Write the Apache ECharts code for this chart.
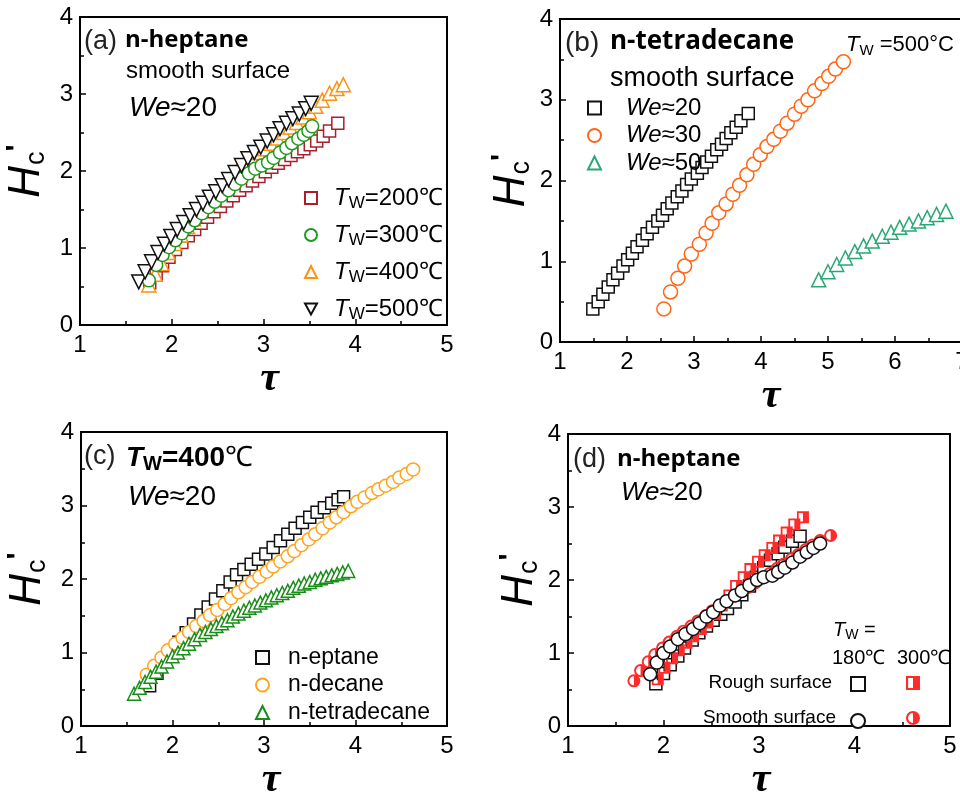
<!DOCTYPE html>
<html>
<head>
<meta charset="utf-8">
<script src="https://cdn.jsdelivr.net/npm/echarts@6/dist/echarts.min.js"></script>
<style>
html,body{margin:0;padding:0;background:#fff;overflow:hidden}
#chart{width:980px;height:802px}
</style>
</head>
<body>
<div id="chart"></div>
<script>
// ---------- (a) n-heptane, smooth surface, We≈20 ----------
const a200Tau = [1.76,1.83,1.90,1.97,2.04,2.11,2.18,2.25,2.32,2.39,2.46,2.53,2.60,2.67,2.74,2.81,2.88,2.95,3.02,3.09,3.16,3.23,3.30,3.37,3.44,3.51,3.58,3.65,3.72,3.81];
const a200H   = [0.55,0.66,0.77,0.88,0.98,1.07,1.16,1.24,1.32,1.40,1.47,1.54,1.61,1.68,1.75,1.81,1.87,1.93,1.99,2.05,2.10,2.15,2.20,2.25,2.29,2.34,2.39,2.45,2.52,2.62];
const a300Tau = [1.75,1.83,1.90,1.97,2.04,2.11,2.18,2.25,2.33,2.40,2.47,2.54,2.62,2.69,2.76,2.84,2.91,2.98,3.05,3.11,3.18,3.25,3.31,3.38,3.44,3.49,3.53];
const a300H   = [0.58,0.78,0.91,1.01,1.10,1.19,1.28,1.36,1.45,1.53,1.60,1.68,1.75,1.83,1.90,1.97,2.03,2.07,2.11,2.17,2.24,2.30,2.36,2.42,2.47,2.52,2.58];
const a400Tau = [1.75,1.82,1.89,1.96,2.03,2.10,2.17,2.24,2.31,2.38,2.45,2.52,2.59,2.66,2.73,2.80,2.87,2.94,3.01,3.08,3.15,3.22,3.29,3.36,3.43,3.50,3.57,3.64,3.72,3.80,3.87];
const a400H   = [0.52,0.66,0.80,0.94,1.06,1.17,1.28,1.38,1.48,1.57,1.66,1.75,1.84,1.95,2.05,2.12,2.18,2.24,2.29,2.36,2.43,2.50,2.57,2.63,2.70,2.77,2.84,2.92,3.01,3.07,3.12];
const a500Tau = [1.64,1.71,1.78,1.85,1.92,1.99,2.06,2.13,2.20,2.27,2.34,2.41,2.48,2.55,2.62,2.69,2.76,2.83,2.90,2.97,3.04,3.11,3.18,3.25,3.32,3.39,3.46,3.52];
const a500H   = [0.56,0.69,0.82,0.94,1.05,1.15,1.24,1.33,1.42,1.50,1.58,1.66,1.73,1.81,1.89,1.98,2.07,2.16,2.24,2.31,2.39,2.47,2.55,2.62,2.68,2.74,2.81,2.88];

// ---------- (b) n-tetradecane, smooth surface, Tw = 500 °C ----------
const b20Tau = [1.49,1.57,1.64,1.72,1.79,1.86,1.94,2.01,2.08,2.15,2.23,2.30,2.38,2.46,2.53,2.60,2.67,2.75,2.82,2.89,2.96,3.05,3.12,3.19,3.26,3.34,3.41,3.48,3.55,3.63,3.70,3.81];
const b20H   = [0.41,0.50,0.59,0.68,0.77,0.85,0.94,1.02,1.10,1.18,1.26,1.34,1.42,1.50,1.57,1.65,1.72,1.80,1.87,1.95,2.02,2.09,2.16,2.23,2.30,2.38,2.45,2.52,2.59,2.66,2.74,2.83];
const b30Tau = [2.55,2.65,2.76,2.86,2.96,3.08,3.18,3.27,3.37,3.48,3.58,3.68,3.79,3.89,3.99,4.09,4.19,4.29,4.39,4.50,4.60,4.70,4.80,4.91,5.01,5.11,5.23];
const b30H   = [0.41,0.62,0.79,0.94,1.09,1.21,1.35,1.47,1.60,1.71,1.83,1.94,2.07,2.20,2.32,2.42,2.51,2.61,2.71,2.82,2.92,3.00,3.11,3.20,3.29,3.38,3.47];
const b50Tau = [4.86,5.00,5.13,5.26,5.40,5.53,5.66,5.81,5.94,6.07,6.21,6.35,6.48,6.62,6.76];
const b50H   = [0.77,0.87,0.96,1.04,1.12,1.19,1.25,1.31,1.36,1.42,1.46,1.50,1.54,1.58,1.62];

// ---------- (c) Tw = 400 °C, We≈20 ----------
const cHepTau = [1.75,1.83,1.91,1.99,2.07,2.15,2.23,2.31,2.39,2.47,2.55,2.63,2.70,2.78,2.86,2.94,3.02,3.10,3.18,3.26,3.34,3.42,3.50,3.58,3.66,3.74,3.81,3.87];
const cHepH   = [0.55,0.72,0.88,1.02,1.14,1.27,1.39,1.51,1.62,1.73,1.84,1.96,2.06,2.13,2.20,2.27,2.34,2.43,2.52,2.61,2.69,2.77,2.84,2.91,2.97,3.03,3.08,3.12];
const cDecTau = [1.72,1.80,1.88,1.95,2.03,2.11,2.18,2.26,2.34,2.41,2.49,2.57,2.64,2.72,2.80,2.87,2.95,3.03,3.10,3.18,3.26,3.33,3.41,3.49,3.56,3.64,3.72,3.79,3.87,3.95,4.02,4.10,4.18,4.25,4.33,4.41,4.48,4.56,4.63];
const cDecH   = [0.70,0.82,0.93,1.03,1.12,1.20,1.28,1.36,1.43,1.51,1.58,1.66,1.74,1.82,1.89,1.96,2.03,2.10,2.17,2.24,2.31,2.38,2.46,2.54,2.61,2.69,2.77,2.84,2.91,2.99,3.05,3.11,3.17,3.22,3.27,3.32,3.38,3.43,3.49];
const cTetTau = [1.58,1.64,1.70,1.76,1.82,1.88,1.94,2.00,2.06,2.12,2.18,2.24,2.30,2.36,2.42,2.48,2.54,2.60,2.66,2.72,2.78,2.84,2.90,2.96,3.02,3.08,3.14,3.20,3.26,3.32,3.38,3.44,3.50,3.56,3.62,3.68,3.74,3.80,3.86,3.92];
const cTetH   = [0.44,0.52,0.60,0.67,0.74,0.81,0.88,0.95,1.00,1.06,1.12,1.18,1.24,1.28,1.32,1.36,1.40,1.44,1.49,1.53,1.57,1.61,1.64,1.68,1.71,1.75,1.78,1.81,1.84,1.88,1.91,1.94,1.96,1.99,2.01,2.03,2.05,2.07,2.09,2.11];

// ---------- (d) n-heptane, We≈20, rough vs smooth ----------
const dR180Tau = [1.92,2.00,2.07,2.15,2.22,2.30,2.37,2.45,2.52,2.60,2.67,2.75,2.82,2.90,2.97,3.05,3.12,3.20,3.27,3.35,3.43];
const dR180H   = [0.58,0.72,0.84,0.96,1.07,1.18,1.28,1.37,1.45,1.53,1.61,1.70,1.80,1.92,2.04,2.17,2.27,2.36,2.45,2.53,2.60];
const dR300Tau = [1.94,2.01,2.09,2.16,2.24,2.31,2.39,2.46,2.54,2.61,2.69,2.76,2.84,2.91,2.99,3.06,3.14,3.21,3.29,3.37,3.46];
const dR300H   = [0.64,0.80,0.93,1.04,1.14,1.23,1.33,1.42,1.53,1.65,1.79,1.92,2.04,2.15,2.25,2.34,2.44,2.54,2.65,2.76,2.86];
const dS180Tau = [1.86,1.93,2.00,2.07,2.15,2.23,2.31,2.38,2.45,2.52,2.59,2.66,2.75,2.82,2.90,2.98,3.05,3.14,3.20,3.27,3.35,3.43,3.50,3.57,3.64];
const dS180H   = [0.71,0.87,1.00,1.09,1.19,1.26,1.33,1.41,1.50,1.56,1.65,1.71,1.79,1.85,1.93,2.00,2.04,2.06,2.11,2.17,2.24,2.32,2.38,2.44,2.50];
const dS300Tau = [1.69,1.76,1.84,1.91,1.99,2.06,2.14,2.21,2.29,2.36,2.44,2.51,2.59,2.66,2.74,2.81,2.89,2.96,3.04,3.11,3.19,3.26,3.34,3.41,3.49,3.56,3.64,3.75];
const dS300H   = [0.62,0.76,0.88,0.98,1.07,1.15,1.23,1.30,1.37,1.44,1.51,1.58,1.65,1.71,1.78,1.84,1.90,1.96,2.03,2.09,2.16,2.22,2.29,2.35,2.42,2.48,2.54,2.61];

// axis ranges
const xMax = [5, 7, 5, 5];
const yMax = 4;

const SANS = 'Liberation Sans, Arial, sans-serif';
const BOLD = 'Open Sans, Noto Sans, sans-serif';
const SERIF = 'Liberation Serif, Times New Roman, serif';

function pts(t, h) { return t.map((v, i) => [v, h[i]]); }

// marker shapes
const DOWN_TRIANGLE = 'path://M0,0L20,0L10,18Z';
// half-filled markers: outer shape filled, left interior cut out
const HALF_SQUARE = 'path://M0,0L20,0L20,20L0,20Z M3,3L3,17L10,17L10,3Z';
const HALF_CIRCLE = 'path://M10,0A10,10,0,1,1,10,20A10,10,0,1,1,10,0Z M10,3A7,7,0,0,0,10,17Z';

// panel (b) runs past the right edge of the page
const grids = [
  { left: 80, top: 17, width: 367, height: 308 },
  { left: 560, top: 19, width: 402, height: 323 },
  { left: 81, top: 432, width: 366, height: 310 },
  { left: 568, top: 434, width: 382, height: 308 }
].map(g => Object.assign({ show: true, borderColor: '#000', borderWidth: 2, backgroundColor: 'transparent' }, g));

const xNameGap = [22, 12, 28, 16];
const xNameShift = [12, 20, 14, 4];
const yNameGap = [28, 22, 28, 22];

const tickStyle = { color: '#000', width: 1.5 };

const xAxes = grids.map((g, i) => ({
  gridIndex: i, type: 'value', min: 1, max: xMax[i], interval: 1,
  name: 'τ', nameLocation: 'middle', nameGap: xNameGap[i],
  nameTextStyle: { fontFamily: SERIF, fontStyle: 'italic', fontWeight: 'bold', fontSize: 42, color: '#000', verticalAlign: 'top', padding: [0, 0, 0, xNameShift[i]] },
  axisLine: { show: true, lineStyle: { color: '#000', width: 2 } },
  axisTick: { show: true, inside: true, length: 6, lineStyle: tickStyle },
  minorTick: { show: true, splitNumber: 2, length: 4, lineStyle: tickStyle },
  axisLabel: { fontSize: 24, fontFamily: SANS, color: '#000', margin: 8 },
  splitLine: { show: false }
}));

const yAxes = grids.map((g, i) => ({
  gridIndex: i, type: 'value', min: 0, max: yMax, interval: 1,
  name: '{h|H}{c|c}{p|\'}', nameLocation: 'middle', nameGap: yNameGap[i], nameRotate: 90,
  nameTextStyle: {
    color: '#000',
    rich: {
      h: { fontSize: 44, fontStyle: 'italic', fontFamily: SANS, lineHeight: 50, color: '#000' },
      c: { fontSize: 27, fontFamily: SANS, lineHeight: 27, padding: [19, 0, 0, 1], color: '#000' },
      p: { fontSize: 30, fontFamily: SANS, fontWeight: 'bold', lineHeight: 30, padding: [0, 0, 18, 0], color: '#000' }
    }
  },
  axisLine: { show: true, lineStyle: { color: '#000', width: 2 } },
  axisTick: { show: true, inside: true, length: 6, lineStyle: tickStyle },
  minorTick: { show: true, splitNumber: 2, length: 4, lineStyle: tickStyle },
  axisLabel: { fontSize: 24, fontFamily: SANS, color: '#000', margin: 7 },
  splitLine: { show: false }
}));

function hollow(name, gi, data, symbol, color, size) {
  return {
    name, type: 'scatter', xAxisIndex: gi, yAxisIndex: gi, data,
    symbol, symbolSize: size,
    itemStyle: { color: '#ffffff', opacity: 1, borderColor: color, borderWidth: 1.5 },
    emphasis: { disabled: true },
    animation: false
  };
}
function halfFilled(name, gi, data, symbol, color, size) {
  return {
    name, type: 'scatter', xAxisIndex: gi, yAxisIndex: gi, data,
    symbol, symbolSize: size,
    itemStyle: { color: color, opacity: 1, borderWidth: 0 },
    emphasis: { disabled: true },
    animation: false
  };
}

const series = [
  // (a)
  hollow('TW=200℃', 0, pts(a200Tau, a200H), 'rect', '#a8202c', 12),
  hollow('TW=400℃', 0, pts(a400Tau, a400H), 'triangle', '#ff9010', 14),
  hollow('TW=300℃', 0, pts(a300Tau, a300H), 'circle', '#1e9a1e', 13),
  hollow('TW=500℃', 0, pts(a500Tau, a500H), DOWN_TRIANGLE, '#111', 14),
  // (b)
  hollow('We≈20', 1, pts(b20Tau, b20H), 'rect', '#111', 12),
  hollow('We≈30', 1, pts(b30Tau, b30H), 'circle', '#ff6514', 14),
  hollow('We≈50', 1, pts(b50Tau, b50H), 'triangle', '#2aa874', 14),
  // (c)
  hollow('n-eptane', 2, pts(cHepTau, cHepH), 'rect', '#111', 12),
  hollow('n-decane', 2, pts(cDecTau, cDecH), 'circle', '#ffa41c', 13),
  hollow('n-tetradecane', 2, pts(cTetTau, cTetH), 'triangle', '#1a8c1a', 13),
  // (d)
  hollow('Rough 180℃', 3, pts(dR180Tau, dR180H), 'rect', '#111', 12),
  halfFilled('Rough 300℃', 3, pts(dR300Tau, dR300H), HALF_SQUARE, '#ff2a2a', 12),
  halfFilled('Smooth 300℃', 3, pts(dS300Tau, dS300H), HALF_CIRCLE, '#ff2a2a', 13),
  hollow('Smooth 180℃', 3, pts(dS180Tau, dS180H), 'circle', '#111', 13)
];

const twRich = {
  g: { width: 12 },
  i: { fontSize: 24, fontStyle: 'italic', fontFamily: SANS, color: '#000', lineHeight: 26 },
  s: { fontSize: 17, fontFamily: SANS, color: '#000', lineHeight: 17, padding: [11, 0, 0, 0] },
  n: { fontSize: 24, fontFamily: SANS, color: '#000', lineHeight: 26 }
};
const weRich = {
  g: { width: 20 },
  i: { fontSize: 24, fontStyle: 'italic', fontFamily: SANS, color: '#000', lineHeight: 24 },
  n: { fontSize: 24, fontFamily: SANS, color: '#000', lineHeight: 24 }
};
const alkRich = {
  g: { width: 14 },
  n: { fontSize: 23, fontFamily: SANS, color: '#000', lineHeight: 24 }
};

const legends = [
  {
    orient: 'vertical', left: 304, top: 184, itemWidth: 12, itemHeight: 12, itemGap: 9, padding: 0,
    selectedMode: false,
    data: ['TW=200℃', 'TW=300℃', 'TW=400℃', 'TW=500℃'],
    formatter: n => '{g|}{i|T}{s|W}{n|' + n.slice(2) + '}',
    textStyle: { fontSize: 24, fontFamily: SANS, color: '#000', rich: twRich }
  },
  {
    orient: 'vertical', left: 587, top: 96, itemWidth: 13, itemHeight: 13, itemGap: 3.5, padding: 0,
    selectedMode: false,
    data: ['We≈20', 'We≈30', 'We≈50'],
    formatter: n => '{g|}{i|We}{n|' + n.slice(2) + '}',
    textStyle: { fontSize: 24, fontFamily: SANS, color: '#000', rich: weRich }
  },
  {
    orient: 'vertical', left: 255, top: 646, itemWidth: 13, itemHeight: 13, itemGap: 4.5, padding: 0,
    selectedMode: false,
    data: ['n-eptane', 'n-decane', 'n-tetradecane'],
    formatter: n => '{g|}{n|' + n + '}',
    textStyle: { fontSize: 23, fontFamily: SANS, color: '#000', rich: alkRich }
  },
  {
    orient: 'vertical', left: 850, top: 676, itemWidth: 14, itemHeight: 14, itemGap: 21, padding: 0,
    selectedMode: false,
    data: ['Rough 180℃', 'Smooth 180℃'],
    formatter: () => '',
    textStyle: { fontSize: 1, lineHeight: 1 }
  },
  {
    orient: 'vertical', left: 906, top: 676, itemWidth: 14, itemHeight: 14, itemGap: 21, padding: 0,
    selectedMode: false,
    data: ['Rough 300℃', 'Smooth 300℃'],
    formatter: () => '',
    textStyle: { fontSize: 1, lineHeight: 1 }
  }
];

function label(x, y, text, style) {
  return {
    type: 'text', x, y, silent: true,
    style: Object.assign({ text, fill: '#000', fontFamily: SANS, fontSize: 24, verticalAlign: 'middle', align: 'left' }, style || {})
  };
}

const graphics = [
  // (a)
  label(84, 42, '(a)', { fontSize: 27, fill: '#222' }),
  label(125, 40, 'n-heptane', { fontFamily: BOLD, fontWeight: 'bold', fontSize: 24 }),
  label(126, 71, 'smooth surface', { fontSize: 24 }),
  label(129, 108, '{i|We}{n|≈20}', { rich: {
    i: { fontSize: 28, fontStyle: 'italic', fontFamily: SANS, fill: '#000' },
    n: { fontSize: 28, fontFamily: SANS, fill: '#000' } } }),
  // (b)
  label(565, 43, '(b)', { fontSize: 28, fill: '#222' }),
  label(610, 42, 'n-tetradecane', { fontFamily: BOLD, fontWeight: 'bold', fontSize: 26 }),
  label(846, 45, '{i|T}{s|W}{n| =500°C}', { rich: {
    i: { fontSize: 22, fontStyle: 'italic', fontFamily: SANS, fill: '#000', lineHeight: 24 },
    s: { fontSize: 15, fontFamily: SANS, fill: '#000', lineHeight: 15, padding: [12, 0, 0, 0] },
    n: { fontSize: 22, fontFamily: SANS, fill: '#000', lineHeight: 24 } } }),
  label(610, 79, 'smooth surface', { fontSize: 27 }),
  // (c)
  label(84, 457, '(c)', { fontSize: 27, fill: '#222' }),
  label(126, 458, '{i|T}{s|W}{b|=400}{n|℃}', { rich: {
    i: { fontSize: 28, fontStyle: 'italic', fontWeight: 'bold', fontFamily: SANS, fill: '#000', lineHeight: 30 },
    s: { fontSize: 20, fontWeight: 'bold', fontFamily: SANS, fill: '#000', lineHeight: 20, padding: [12, 0, 0, 0] },
    b: { fontSize: 28, fontWeight: 'bold', fontFamily: SANS, fill: '#000', lineHeight: 30 },
    n: { fontSize: 28, fontFamily: SANS, fill: '#000', lineHeight: 30 } } }),
  label(128, 497, '{i|We}{n|≈20}', { rich: {
    i: { fontSize: 28, fontStyle: 'italic', fontFamily: SANS, fill: '#000' },
    n: { fontSize: 28, fontFamily: SANS, fill: '#000' } } }),
  // (d)
  label(573, 460, '(d)', { fontSize: 27, fill: '#222' }),
  label(617, 459, 'n-heptane', { fontFamily: BOLD, fontWeight: 'bold', fontSize: 24 }),
  label(621, 493, '{i|We}{n|≈20}', { rich: {
    i: { fontSize: 26, fontStyle: 'italic', fontFamily: SANS, fill: '#000' },
    n: { fontSize: 26, fontFamily: SANS, fill: '#000' } } }),
  label(833, 630, '{i|T}{s|W}{n| =}', { rich: {
    i: { fontSize: 20, fontStyle: 'italic', fontFamily: SANS, fill: '#000', lineHeight: 22 },
    s: { fontSize: 14, fontFamily: SANS, fill: '#000', lineHeight: 14, padding: [10, 0, 0, 0] },
    n: { fontSize: 20, fontFamily: SANS, fill: '#000', lineHeight: 22 } } }),
  label(832, 658, '180℃', { fontSize: 20 }),
  label(897, 658, '300℃', { fontSize: 20 }),
  label(832, 683, 'Rough surface', { fontSize: 19, align: 'right' }),
  label(836, 718, 'Smooth surface', { fontSize: 19, align: 'right' })
];

const chart = echarts.init(document.getElementById('chart'), null, { renderer: 'canvas' });
chart.setOption({
  backgroundColor: '#fff',
  animation: false,
  grid: grids,
  xAxis: xAxes,
  yAxis: yAxes,
  legend: legends,
  series: series,
  graphic: graphics
});
</script>
</body>
</html>
